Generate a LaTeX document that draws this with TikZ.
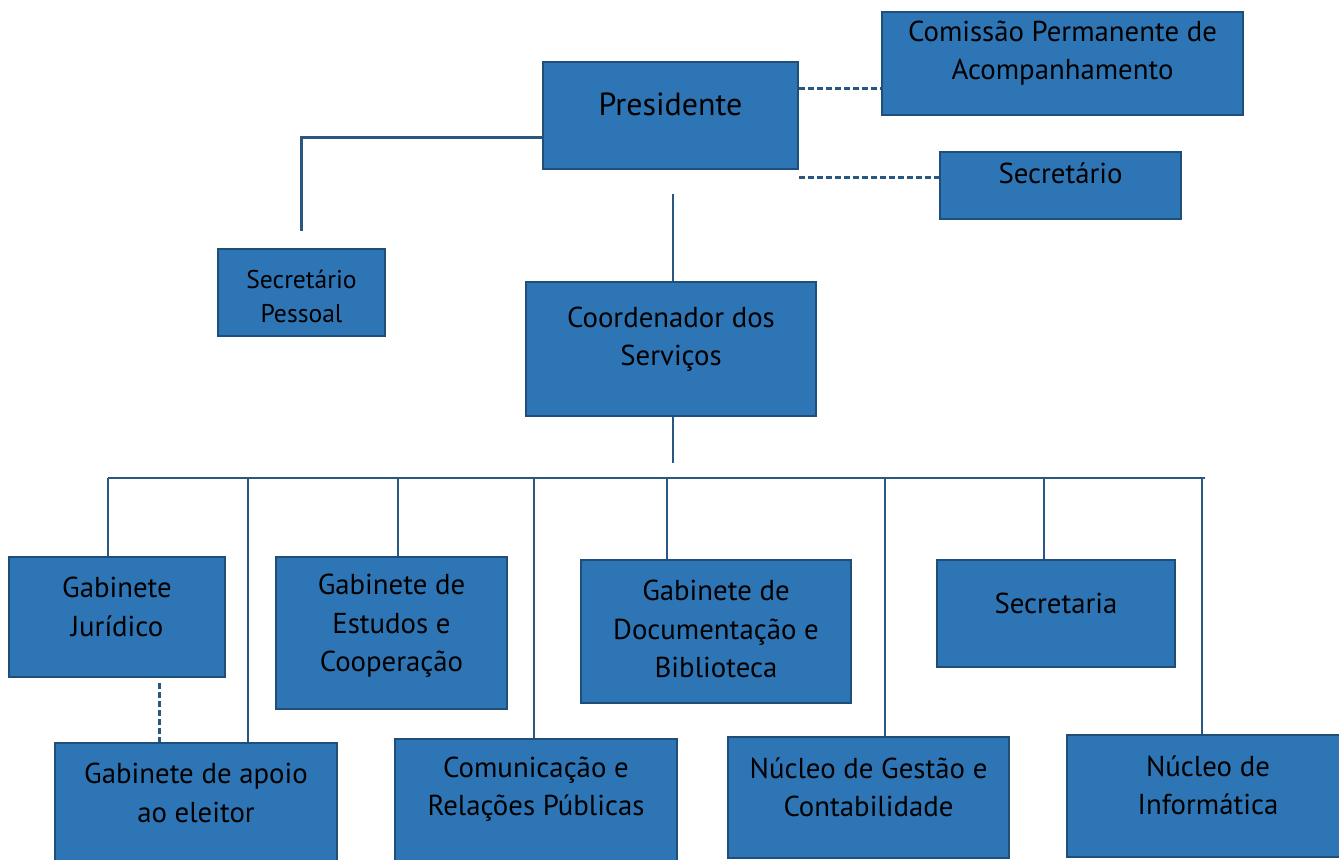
\documentclass[tikz,border=0pt]{standalone}
\usepackage{fontspec}
\setmainfont{PT Sans}
\usepackage{tikz}
\usetikzlibrary{positioning,calc}
\usepackage{xcolor}
\definecolor{boxfill}{HTML}{2E75B6}
\definecolor{boxline}{HTML}{1F4E79}
\definecolor{linkcol}{HTML}{2A5782}

\begin{document}
\begin{tikzpicture}[
                x=0.5pt, y=-0.5pt,
                box/.style={draw=boxline, fill=boxfill, line width=1.3pt, inner sep=0pt},
                txt/.style={align=center, inner sep=0pt, font=\fontsize{14.4}{19.2}\selectfont},
                link/.style={draw=linkcol, line width=1.4pt},
                dashlink/.style={link, line width=1.5pt, dash pattern=on 3pt off 1.5pt}
            ]
                \useasboundingbox (0,0) rectangle (1339,859);

                % Top: president and his staff
                \node[box, minimum width=127.5pt, minimum height=53.5pt] (pres) at (670.5,115.5) {};
                \node[txt, font=\fontsize{16}{19}\selectfont] (presT) at (670.5,104) {Presidente};
                \node[box, minimum width=180.5pt, minimum height=51.5pt] (comissao) at (1062.5,63.5) {};
                \node[txt] (comissaoT) at (1062.5,53) {Comissão Permanente de\\Acompanhamento};
                \node[box, minimum width=120.5pt, minimum height=33.5pt] (secr) at (1060.5,185.5) {};
                \node[txt] (secrT) at (1060.5,173) {Secretário};
                \node[box, minimum width=83.5pt, minimum height=43.5pt] (pessoal) at (301.5,292.5) {};
                \node[txt, font=\fontsize{12.8}{17}\selectfont] (pessoalT) at (301.5,296) {Secretário\\Pessoal};

                \draw[link] ($(pres.west)+(0,22)$) -| ($(pessoal.north)+(0,-17)$);
                \draw[dashlink] ($(pres.east)+(0,-27.5)$) coordinate (pc) -- (pc -| comissao.west);
                \draw[dashlink] ($(pres.south east)+(0,7)$) coordinate (ps) -- (ps -| secr.west);

                % Middle: coordinator
                \node[box, minimum width=145pt, minimum height=67pt] (coord) at (671,349) {};
                \node[txt] (coordT) at (671,339) {Coordenador dos\\Serviços};
                \draw[link] ($(coord.north)+(2,-87)$) -- ($(coord.north)+(2,0)$);
                \draw[link] ($(coord.south)+(2,0)$) -- ($(coord.south)+(2,46)$);

                % Bottom: services
                \node[box, minimum width=108pt, minimum height=60pt] (jur) at (117,617) {};
                \node[txt] (jurT) at (117,607) {Gabinete\\Jurídico};
                \node[box, minimum width=141pt, minimum height=80pt] (apoio) at (196,823) {};
                \node[txt] (apoioT) at (196,793) {Gabinete de apoio\\ao eleitor};
                \node[box, minimum width=115.5pt, minimum height=76pt] (estudos) at (391.5,633) {};
                \node[txt] (estudosT) at (391.5,626) {Gabinete de\\Estudos e\\Cooperação};
                \node[box, minimum width=141pt, minimum height=80pt] (comun) at (536,819) {};
                \node[txt] (comunT) at (536,789) {Comunicação e\\Relações Públicas};
                \node[box, minimum width=135pt, minimum height=71.5pt] (docum) at (716,631.5) {};
                \node[txt] (documT) at (716,629) {Gabinete de\\Documentação e\\Biblioteca};
                \node[box, minimum width=140.5pt, minimum height=60.5pt] (gestao) at (868.5,797.5) {};
                \node[txt] (gestaoT) at (868.5,787) {Núcleo de Gestão e\\Contabilidade};
                \node[box, minimum width=119pt, minimum height=53.5pt] (secretaria) at (1056,613.5) {};
                \node[txt] (secretariaT) at (1056,603) {Secretaria};
                \node[box, minimum width=140pt, minimum height=61pt] (info) at (1207,796) {};
                \node[txt] (infoT) at (1208,785) {Núcleo de\\Informática};

                % Bus and drops
                \coordinate (busL) at (108,478);
                \coordinate (busR) at (1205,478);
                \draw[link] (busL) -- (busR);
                \foreach \x/\n in {108/jur, 248/apoio, 398/estudos, 534/comun, 667/docum, 885/gestao, 1044/secretaria, 1202/info} {
                    \coordinate (tap\n) at (\x,478);
                    \draw[link] (tap\n) -- (tap\n |- \n.north);
                }
                \draw[dashlink] ($(jur.south)+(42,5)$) coordinate (jd) -- (jd |- apoio.north);
            \end{tikzpicture}
\end{document}
